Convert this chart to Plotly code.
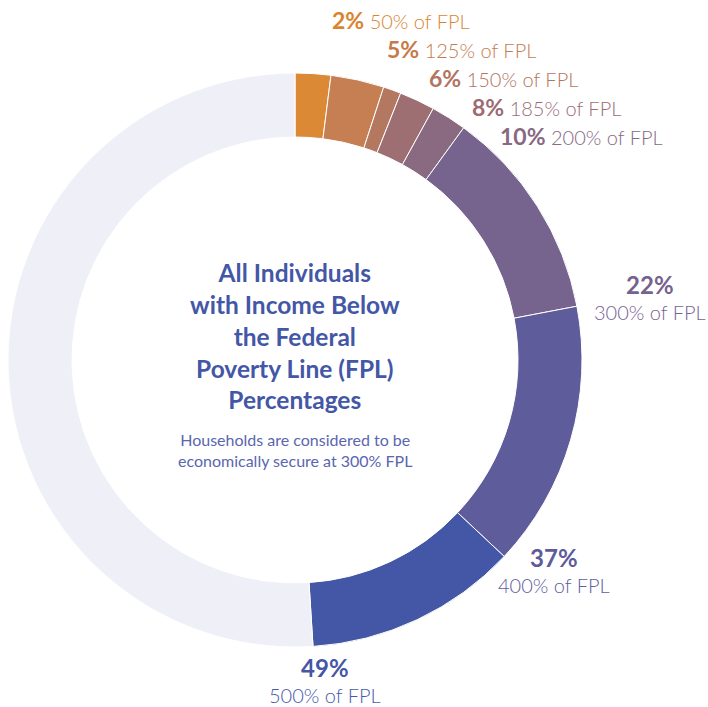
import plotly.graph_objects as go

# Cumulative share of individuals below each FPL threshold
thresholds = ["50% of FPL", "125% of FPL", "150% of FPL", "185% of FPL",
              "200% of FPL", "300% of FPL", "400% of FPL", "500% of FPL"]
cumulative_pct = [2, 5, 6, 8, 10, 22, 37, 49]

slice_colors = ["#DB8935", "#C67F52", "#B4775F", "#9D6E72", "#896A81",
                "#76638E", "#5E5C9A", "#4357A6"]
rest_color = "#EFF0F7"
bold_colors = ["#D9842F", "#C67A4C", "#B2735F", "#9C6B73", "#876983",
               "#76628F", "#5E5B9B", "#4656A6"]
light_colors = ["#D9842F", "#C47B50", "#B27462", "#9A6D76", "#876985",
                "#766392", "#615D9E", "#4959A9"]

# Slice sizes are the increments between consecutive cumulative shares
values = [cumulative_pct[0]] + [b - a for a, b in zip(cumulative_pct[:-1], cumulative_pct[1:])]
values.append(100 - cumulative_pct[-1])
labels = thresholds + ["Above 500% of FPL"]
colors = slice_colors + [rest_color]

W, H = 708, 707
CX, CY, R = 295, 360, 287


def px(x):
    return x / W


def py(y):
    return 1 - y / H


fig = go.Figure(go.Pie(
    labels=labels,
    values=values,
    sort=False,
    direction="clockwise",
    rotation=0,
    hole=0.777,
    textinfo="none",
    marker=dict(colors=colors, line=dict(color="white", width=1)),
    domain=dict(x=[px(CX - R), px(CX + R)], y=[py(CY + R), py(CY - R)]),
    showlegend=False,
))

FONT = "Lato"
annotations = []

# Inline labels for the small slices near the top
inline_pos = [(330, 20), (385, 49), (427, 78), (470, 107), (498, 136)]
for i, (x, y) in enumerate(inline_pos):
    annotations.append(dict(
        x=px(x), y=py(y), xref="paper", yref="paper",
        xanchor="left", yanchor="middle", showarrow=False,
        text=(f"<b><span style='color:{bold_colors[i]};font-size:23px'>{cumulative_pct[i]}%</span></b>"
              f" <span style='color:{light_colors[i]};font-size:20px'>{thresholds[i]}</span>"),
        font=dict(family=FONT, size=20, weight=300),
    ))

# Two-line labels for the larger slices
stacked_pos = [(650, 297), (554, 570), (325, 680)]
for j, (x, y) in enumerate(stacked_pos):
    i = 5 + j
    annotations.append(dict(
        x=px(x), y=py(y), xref="paper", yref="paper",
        xanchor="center", yanchor="middle", showarrow=False,
        text=(f"<b><span style='color:{bold_colors[i]};font-size:24px'>{cumulative_pct[i]}%</span></b>"
              f"<br><span style='color:{light_colors[i]};font-size:20px'>{thresholds[i]}</span>"),
        font=dict(family=FONT, size=20, weight=300),
    ))

# Center title and note
annotations.append(dict(
    x=px(CX), y=py(336), xref="paper", yref="paper",
    xanchor="center", yanchor="middle", showarrow=False,
    text="<b>All Individuals<br>with Income Below<br>the Federal<br>Poverty Line (FPL)<br>Percentages</b>",
    font=dict(family=FONT, size=24.5, color="#4357A6"),
))
annotations.append(dict(
    x=px(CX), y=py(450), xref="paper", yref="paper",
    xanchor="center", yanchor="middle", showarrow=False,
    text="Households are considered to be<br>economically secure at 300% FPL",
    font=dict(family=FONT, size=16, color="#5A66B0"),
))

fig.update_layout(
    width=W, height=H,
    margin=dict(l=0, r=0, t=0, b=0),
    paper_bgcolor="white",
    plot_bgcolor="white",
    annotations=annotations,
)

fig.write_html("out.html")
